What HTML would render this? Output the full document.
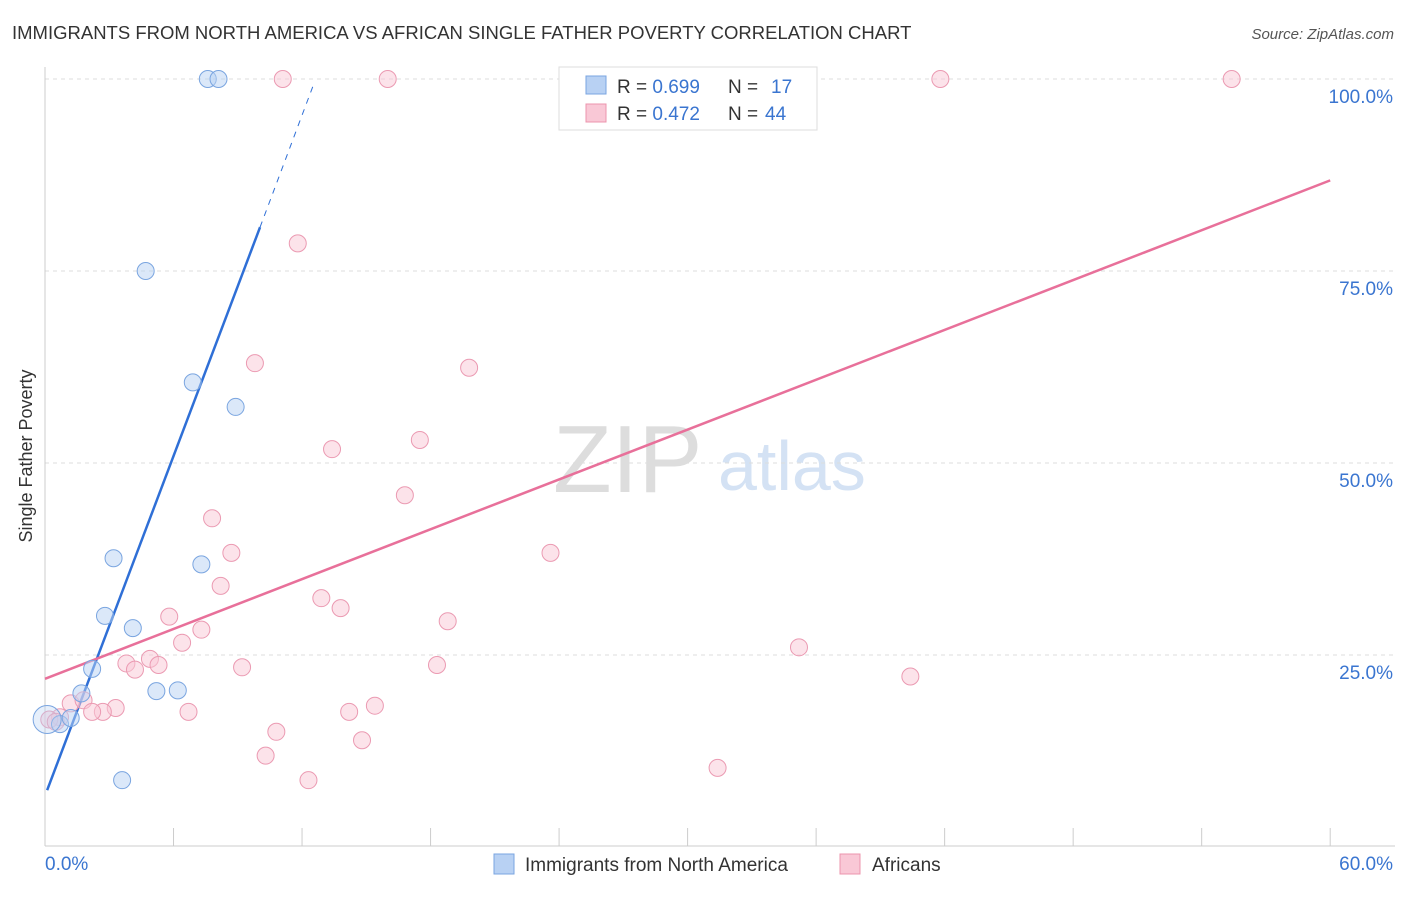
<!DOCTYPE html>
<html><head><meta charset="utf-8"><style>
body{margin:0;background:#fff;font-family:"Liberation Sans",sans-serif;}
svg text{font-family:"Liberation Sans",sans-serif;}
</style></head><body>
<svg id="chart" width="1406" height="892">
<text x="12" y="39" font-size="18.5" fill="#333">IMMIGRANTS FROM NORTH AMERICA VS AFRICAN SINGLE FATHER POVERTY CORRELATION CHART</text>
<text x="1394" y="39" font-size="15" fill="#555" font-style="italic" text-anchor="end">Source: ZipAtlas.com</text>
<text x="32" y="456" font-size="18" fill="#333" transform="rotate(-90 32 456)" text-anchor="middle">Single Father Poverty</text>
<text x="553" y="492" font-size="96" fill="#ddd" font-family="Liberation Serif">ZIP</text>
<text x="718" y="490" font-size="70" fill="#d4e2f4">atlas</text>
<g id="grid"></g><g id="axes"></g><g id="lines"></g><g id="pts"></g>
<g>
<rect x="559" y="67" width="258" height="63" fill="#fff" stroke="#ddd"/>
<rect x="586" y="76" width="20" height="18" fill="#b8d1f3" stroke="#7aa5e0"/>
<rect x="586" y="104" width="20" height="18" fill="#f9c8d6" stroke="#ec94ad"/>
<text x="617" y="93" font-size="19" fill="#333">R = <tspan fill="#3a75d0">0.699</tspan></text>
<text x="728" y="93" font-size="19" fill="#333">N =</text>
<text x="771" y="93" font-size="19" fill="#3a75d0">17</text>
<text x="617" y="120" font-size="19" fill="#333">R = <tspan fill="#3a75d0">0.472</tspan></text>
<text x="728" y="120" font-size="19" fill="#333">N =</text>
<text x="765" y="120" font-size="19" fill="#3a75d0">44</text>
</g>
<g>
<rect x="494" y="854" width="20" height="20" fill="#b8d1f3" stroke="#7aa5e0"/>
<text x="525" y="871" font-size="19" fill="#333">Immigrants from North America</text>
<rect x="840" y="854" width="20" height="20" fill="#f9c8d6" stroke="#ec94ad"/>
<text x="872" y="871" font-size="19" fill="#333">Africans</text>
</g>
</svg>
<script>
const blueX=[7.6,8.1,4.7,6.9,8.9,3.2,7.3,2.8,4.1,2.2,1.7,5.2,6.2,3.6,0.7,1.2,0.1];
const blueY=[100,100,75,60.5,57.3,37.6,36.8,30.1,28.5,23.2,20,20.3,20.4,8.7,16,16.8,16.6];
const pinkX=[11.1,16,41.8,55.4,11.8,9.8,19.8,17.5,13.4,16.8,7.8,8.7,23.6,8.2,12.9,13.8,5.8,18.8,7.3,6.4,35.2,3.8,4.9,5.3,4.2,9.2,18.3,40.4,1.2,1.8,3.3,2.7,2.2,6.7,14.2,15.4,10.8,14.8,10.3,12.3,31.4,0.7,0.2,0.5];
const pinkY=[100,100,100,100,78.6,63,62.4,53,51.8,45.8,42.8,38.3,38.3,34,32.4,31.1,30,29.4,28.3,26.6,26,23.9,24.5,23.7,23.1,23.4,23.7,22.2,18.7,19.1,18.1,17.6,17.6,17.6,17.6,18.4,15,13.9,11.9,8.7,10.3,16.9,16.6,16.3];
const yTicks=[25,50,75,100];
const xTickLabels=["0.0%","60.0%"];
const blueLine=[0.1,7.4,10.04,80.7,12.5,99];
const pinkLine=[0,21.9,60,86.8];
const sx=v=>45+v*21.42, sy=v=>847-v*7.68;
const NS="http://www.w3.org/2000/svg";
function mk(p,t,a){const e=document.createElementNS(NS,t);for(const k in a)e.setAttribute(k,a[k]);document.getElementById(p).appendChild(e);return e;}
yTicks.forEach(v=>{
 const l=mk('grid','line',{x1:45,x2:1395,y1:sy(v),y2:sy(v),stroke:'#ddd','stroke-dasharray':'4,4'});
 
 
 const t=mk('grid','text',{x:1393,y:sy(v)+24,'font-size':19,fill:'#3a75d0','text-anchor':'end'});t.textContent=v.toFixed(1)+'%';
 
 
});
let a=mk('axes','line',{x1:45,x2:1395,y1:846,y2:846,stroke:'#ccc'});


a=mk('axes','line',{x1:45,x2:45,y1:67,y2:846,stroke:'#ccc'});


for(let i=0;i<=10;i++){const t=mk('axes','line',{x1:sx(i*6),x2:sx(i*6),y1:828,y2:846,stroke:'#ccc'});
 
 }
xTickLabels.forEach((s,i)=>{const t=mk('axes','text',{x:i?1393:45,y:870,'font-size':19,fill:'#3a75d0','text-anchor':i?'end':'start'});t.textContent=s;
 
 });
let ln=mk('lines','line',{x1:sx(blueLine[0]),y1:sy(blueLine[1]),x2:sx(blueLine[2]),y2:sy(blueLine[3]),stroke:'#2f6fd6','stroke-width':2.5});


ln=mk('lines','line',{x1:sx(blueLine[2]),y1:sy(blueLine[3]),x2:sx(blueLine[4]),y2:sy(blueLine[5]),stroke:'#2f6fd6','stroke-width':1,'stroke-dasharray':'6,6'});


ln=mk('lines','line',{x1:sx(pinkLine[0]),y1:sy(pinkLine[1]),x2:sx(pinkLine[2]),y2:sy(pinkLine[3]),stroke:'#e8709a','stroke-width':2.5});


pinkX.forEach((x,i)=>{const c=mk('pts','circle',{cx:sx(x),cy:sy(pinkY[i]),r:8.5,fill:'rgba(249,200,214,0.5)',stroke:'#eb9ab2','stroke-width':1});
 
 });
blueX.forEach((x,i)=>{const c=mk('pts','circle',{cx:sx(x),cy:sy(blueY[i]),r:i==16?14:8.5,fill:i==16?'rgba(184,209,243,0.35)':'rgba(184,209,243,0.5)',stroke:'#7aa5e0','stroke-width':1});
 
 });
</script>
</body></html>
